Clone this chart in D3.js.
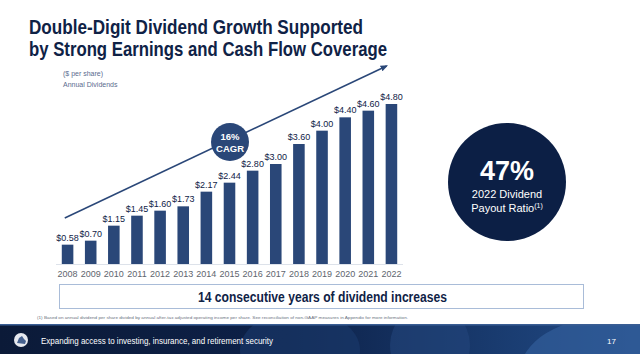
<!DOCTYPE html>
<html>
<head>
<meta charset="utf-8">
<script src="https://cdn.jsdelivr.net/npm/d3@7"></script>
<style>
  html, body { margin: 0; padding: 0; background: #fff; }
  svg { display: block; }
</style>
</head>
<body>
<div id="chart"></div>
<script>
const WIDTH = 640
const HEIGHT = 354

const years = ['2008','2009','2010','2011','2012','2013','2014','2015','2016','2017','2018','2019','2020','2021','2022'];
const dividends = [0.58, 0.70, 1.15, 1.45, 1.60, 1.73, 2.17, 2.44, 2.80, 3.00, 3.60, 4.00, 4.40, 4.60, 4.80];
const labels = ['$0.58','$0.70','$1.15','$1.45','$1.60','$1.73','$2.17','$2.44','$2.80','$3.00','$3.60','$4.00','$4.40','$4.60','$4.80'];
// trend arrow drawn over the bars, in $ units
const trendStart = 1.38;
const trendEnd = 5.94;

const NAVY = '#0f2246';
const BAR = '#2a4778';

var svg = d3.select("#chart").append("svg")
    .attr("width", WIDTH)
    .attr("height", HEIGHT)
    .attr("font-family", "'Liberation Sans', Arial, sans-serif");

var defs = svg.append("defs");

// title (condensed by squeezing the glyphs)
var title = svg.append("g")
    .attr("fill", NAVY)
    .attr("font-weight", "bold")
    .attr("font-size", "21px");
title.append("text").attr("x", 29).attr("y", 34)
    .attr("textLength", 334).attr("lengthAdjust", "spacingAndGlyphs")
    .text("Double-Digit Dividend Growth Supported");
title.append("text").attr("x", 29).attr("y", 56)
    .attr("textLength", 358).attr("lengthAdjust", "spacingAndGlyphs")
    .text("by Strong Earnings and Cash Flow Coverage");

svg.append("text").attr("x", 63).attr("y", 76)
    .attr("font-size", "7px").attr("fill", "#5a6b8e")
    .text("($ per share)");
svg.append("text").attr("x", 63).attr("y", 87)
    .attr("font-size", "7px").attr("fill", "#5a6b8e")
    .text("Annual Dividends");

var xScale = d3.scaleBand()
    .domain(years)
    .range([56, 403])
    .paddingInner(0.5)
    .paddingOuter(0.25);

var yScale = d3.scaleLinear()
    .domain([0, 6])
    .range([264, 64]);

// baseline
svg.append("line")
    .attr("x1", 56).attr("x2", 403)
    .attr("y1", yScale(0) + 0.5).attr("y2", yScale(0) + 0.5)
    .attr("stroke", "#dde2ea").attr("stroke-width", 1);

svg.append("g").selectAll("rect")
    .data(dividends)
    .enter()
    .append("rect")
        .attr("x", (d, i) => xScale(years[i]))
        .attr("y", d => yScale(d))
        .attr("width", xScale.bandwidth())
        .attr("height", d => yScale(0) - yScale(d))
        .attr("fill", BAR);

svg.append("g").selectAll("text")
    .data(dividends)
    .enter()
    .append("text")
        .attr("x", (d, i) => xScale(years[i]) + xScale.bandwidth() / 2)
        .attr("y", d => yScale(d) - 4)
        .attr("text-anchor", "middle")
        .attr("font-size", "9px")
        .attr("fill", NAVY)
        .text((d, i) => labels[i]);

// year axis
var xAxis = d3.axisBottom(xScale).tickSize(0).tickPadding(7);
var axisG = svg.append("g")
    .attr("transform", `translate(0,${yScale(0)})`)
    .call(xAxis);
axisG.select(".domain").remove();
axisG.selectAll("text")
    .attr("font-size", "9px")
    .attr("font-family", "'Liberation Sans', Arial, sans-serif")
    .attr("fill", "#60656e");

// trend arrow
defs.append("marker")
    .attr("id", "arrow")
    .attr("viewBox", "0 0 10 10")
    .attr("refX", 8).attr("refY", 5)
    .attr("markerWidth", 5).attr("markerHeight", 5)
    .attr("orient", "auto")
  .append("path")
    .attr("d", "M0,1 L10,5 L0,9 Z")
    .attr("fill", BAR);

var x0 = xScale(years[0]) + 3;
var x1 = xScale(years[years.length - 1]) + 1;
svg.append("line")
    .attr("x1", x0).attr("y1", yScale(trendStart))
    .attr("x2", x1).attr("y2", yScale(trendEnd))
    .attr("stroke", BAR)
    .attr("stroke-width", 1.5)
    .attr("marker-end", "url(#arrow)");

// CAGR badge
var cagr = svg.append("g").attr("transform", "translate(230,142)");
cagr.append("circle").attr("r", 19).attr("fill", BAR);
cagr.append("text").attr("y", -2).attr("text-anchor", "middle")
    .attr("font-size", "9.5px").attr("font-weight", "bold").attr("fill", "#fff").text("16%");
cagr.append("text").attr("y", 10).attr("text-anchor", "middle")
    .attr("font-size", "9.5px").attr("font-weight", "bold").attr("fill", "#fff").text("CAGR");

// payout ratio circle
var payout = svg.append("g").attr("transform", "translate(507,182)");
payout.append("circle").attr("r", 59).attr("fill", "#0c1f45");
payout.append("text").attr("y", -2).attr("text-anchor", "middle")
    .attr("font-size", "27px").attr("font-weight", "bold").attr("fill", "#fff").text("47%");
payout.append("text").attr("y", 16).attr("text-anchor", "middle")
    .attr("font-size", "11px").attr("fill", "#fff").text("2022 Dividend");
var pr = payout.append("text").attr("y", 30).attr("text-anchor", "middle")
    .attr("font-size", "11px").attr("fill", "#fff");
pr.append("tspan").text("Payout Ratio");
pr.append("tspan").attr("font-size", "7px").attr("dy", -4).text("(1)");

// consecutive years box
svg.append("rect")
    .attr("x", 59.5).attr("y", 284.5)
    .attr("width", 524).attr("height", 24)
    .attr("fill", "#fff")
    .attr("stroke", "#a9bcd8").attr("stroke-width", 1);
svg.append("text")
    .attr("x", 198).attr("y", 302)
    .attr("textLength", 249).attr("lengthAdjust", "spacingAndGlyphs")
    .attr("font-weight", "bold")
    .attr("font-size", "14.5px")
    .attr("fill", NAVY)
    .text("14 consecutive years of dividend increases");

// footnote
svg.append("text")
    .attr("x", 37).attr("y", 319)
    .attr("font-size", "4px")
    .attr("textLength", 371).attr("lengthAdjust", "spacingAndGlyphs")
    .attr("fill", "#6b7280")
    .text("(1)   Based on annual dividend per share divided by annual after-tax adjusted operating income per share. See reconciliation of non-GAAP measures in Appendix for more information.");

// footer band
var grad = defs.append("linearGradient").attr("id", "footerGrad")
    .attr("x1", "0").attr("x2", "1").attr("y1", "0").attr("y2", "0");
grad.append("stop").attr("offset", "0%").attr("stop-color", "#0b1a38");
grad.append("stop").attr("offset", "45%").attr("stop-color", "#0d2148");
grad.append("stop").attr("offset", "80%").attr("stop-color", "#1a3d72");
grad.append("stop").attr("offset", "100%").attr("stop-color", "#244c86");

defs.append("clipPath").attr("id", "footerClip")
  .append("rect").attr("x", 0).attr("y", 324).attr("width", WIDTH).attr("height", 30);

var footer = svg.append("g").attr("clip-path", "url(#footerClip)");
footer.append("rect").attr("x", 0).attr("y", 324).attr("width", WIDTH).attr("height", 30)
    .attr("fill", "url(#footerGrad)");
footer.append("ellipse").attr("cx", 300).attr("cy", 350).attr("rx", 60).attr("ry", 40)
    .attr("fill", "#1a3a6c").attr("opacity", 0.6);
footer.append("ellipse").attr("cx", 430).attr("cy", 345).attr("rx", 40).attr("ry", 40)
    .attr("fill", "#24477e").attr("opacity", 0.55);
footer.append("ellipse").attr("cx", 610).attr("cy", 372).attr("rx", 90).attr("ry", 55)
    .attr("fill", "#3563a0").attr("opacity", 0.6);
footer.append("rect").attr("x", 0).attr("y", 324).attr("width", WIDTH).attr("height", 1.5)
    .attr("fill", "#3a5e94");

// logo
var logo = svg.append("g").attr("transform", "translate(21,340)");
logo.append("circle").attr("r", 7).attr("fill", "#e6e9ef");
logo.append("path").attr("d", "M-4,3 L-2,-2 L1,-4 L3,-1 L5,1 L4,4 Z").attr("fill", "#45618f");

svg.append("text")
    .attr("x", 41).attr("y", 344)
    .attr("font-size", "9.5px")
    .attr("textLength", 232).attr("lengthAdjust", "spacingAndGlyphs")
    .attr("fill", "#fff")
    .text("Expanding access to investing, insurance, and retirement security");

svg.append("text")
    .attr("x", 616).attr("y", 344)
    .attr("text-anchor", "end")
    .attr("font-size", "8px")
    .attr("fill", "#fff")
    .text("17");
</script>
</body>
</html>
